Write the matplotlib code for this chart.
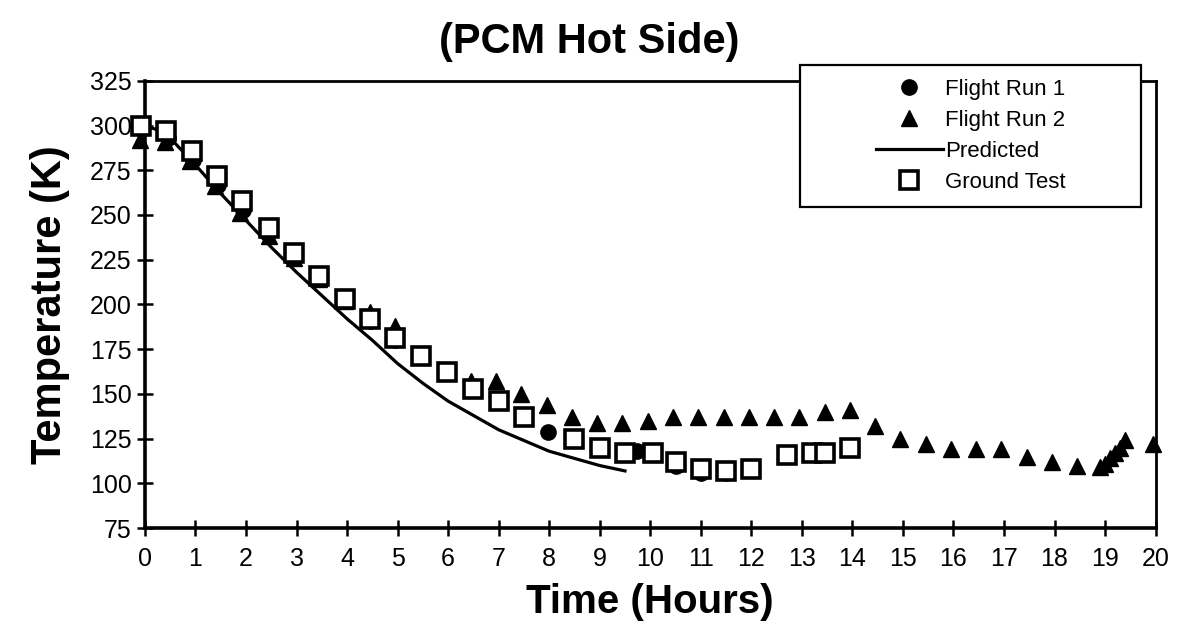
import matplotlib
matplotlib.use("Agg")
import matplotlib.pyplot as plt
from matplotlib.patches import Rectangle

plt.rcParams["font.family"] = ["Liberation Sans", "DejaVu Sans"]

# Ground Test (squares)
gt_hours = [-0.08, 0.42, 0.93, 1.43, 1.93, 2.45, 2.96, 3.45, 3.96, 4.45, 4.95, 5.47, 5.98,
            6.5, 7.0, 7.5, 8.5, 9.0, 9.5, 10.05, 10.5, 11.0, 11.5, 12.0, 12.7, 13.2, 13.45, 13.95]
gt_temp = [300, 297, 286, 272, 258, 243, 229, 216, 203, 192, 181, 171, 162,
           153, 146, 137, 125, 120, 117, 117, 112, 108, 107, 108, 116, 117, 117, 120]

# Flight Run 2 (triangles)
fr2_hours = [-0.1, 0.4, 0.9, 1.38, 1.88, 2.45, 2.96, 3.45, 3.96, 4.45, 4.95, 6.45, 6.95,
             7.45, 7.95, 8.45, 8.95, 9.45, 9.95, 10.45, 10.95, 11.45, 11.95, 12.45, 12.95,
             13.45, 13.95, 14.45, 14.95, 15.45, 15.95, 16.45, 16.95, 17.45, 17.95, 18.45,
             18.9, 19.0, 19.1, 19.2, 19.3, 19.4, 19.95]
fr2_temp = [292, 291, 280, 266, 251, 238, 226, 214, 202, 196, 188, 157, 157,
            150, 144, 137, 134, 134, 135, 137, 137, 137, 137, 137, 137,
            140, 141, 132, 125, 122, 119, 119, 119, 115, 112, 110,
            109, 111, 114, 117, 120, 124, 122]

# Flight Run 1 (circles)
fr1_hours = [0.45, 0.95, 1.45, 1.95, 2.45, 2.95, 3.45, 3.95, 4.45, 4.95,
             7.98, 9.73, 10.5, 11.0, 11.5]
fr1_temp = [293, 281, 267, 253, 241, 228, 216, 203, 191, 180,
            129, 118, 110, 106, 106]

# Predicted (line)
pred_hours = [0.0, 0.3, 0.5, 1.0, 1.5, 2.0, 2.5, 3.0, 3.5, 4.0, 4.5, 5.0, 5.5,
              6.0, 6.5, 7.0, 7.5, 8.0, 8.5, 9.0, 9.5]
pred_temp = [300, 297, 293, 278, 262, 247, 232, 218, 205, 192, 180, 167, 156,
             146, 138, 130, 124, 118, 114, 110, 107]

x_ticks = list(range(0, 21))
y_ticks = list(range(75, 326, 25))


def main():
    fig = plt.figure(figsize=(11.78, 6.41), dpi=100)
    ax = fig.add_axes([0.123, 0.176, 0.858, 0.698])

    ax.plot(pred_hours, pred_temp, color="black", lw=2.3, label="Predicted", zorder=2)
    ax.plot(fr1_hours, fr1_temp, "o", color="black", ms=11, ls="none",
            label="Flight Run 1", zorder=3, clip_on=False)
    ax.plot(fr2_hours, fr2_temp, "^", color="black", ms=12, ls="none",
            label="Flight Run 2", zorder=4, clip_on=False)
    ax.plot(gt_hours, gt_temp, "s", mfc="white", mec="black", mew=2.6, ms=12.5,
            ls="none", label="Ground Test", zorder=5, clip_on=False)

    ax.set_xlim(0, 20)
    ax.set_ylim(75, 325)
    ax.set_xticks(x_ticks)
    ax.set_yticks(y_ticks)
    ax.tick_params(axis="both", direction="inout", length=11, width=1.8,
                   labelsize=18, colors="black")
    ax.tick_params(axis="x", pad=8)
    ax.tick_params(axis="y", pad=4)
    for side in ["left", "bottom"]:
        ax.spines[side].set_linewidth(2.6)
    for side in ["top", "right"]:
        ax.spines[side].set_linewidth(2.0)

    ax.set_xlabel("Time (Hours)", fontsize=29, fontweight="bold", labelpad=9)
    ax.set_ylabel("Temperature (K)", fontsize=30, fontweight="bold", labelpad=14)
    fig.text(0.5, 0.935, "(PCM Hot Side)", ha="center", va="center",
             fontsize=30, fontweight="bold")

    # legend box drawn separately so the entries sit centred in it
    box = Rectangle((0.648, 0.718), 0.338, 0.318, transform=ax.transAxes,
                    facecolor="white", edgecolor="black", lw=1.6,
                    clip_on=False, zorder=9)
    ax.add_patch(box)

    h, l = ax.get_legend_handles_labels()
    order = [1, 2, 0, 3]
    leg = ax.legend([h[i] for i in order], [l[i] for i in order],
                    loc="center", bbox_to_anchor=(0.648 + 0.169, 0.718 + 0.159),
                    fontsize=16, frameon=False, handlelength=3.0,
                    handletextpad=0.1, labelspacing=0.45, borderaxespad=0)
    leg.set_zorder(10)

    fig.savefig("out.png", dpi=100, facecolor="white")


if __name__ == "__main__":
    main()
